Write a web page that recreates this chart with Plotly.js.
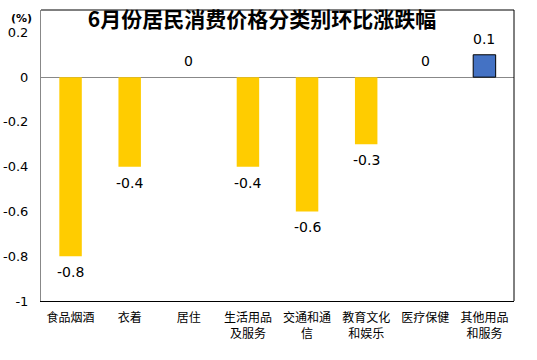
<!DOCTYPE html>
<html><head><meta charset="utf-8">
<script src="https://cdn.plot.ly/plotly-3.0.1.min.js"></script>
<style>html,body{margin:0;padding:0;background:#fff}</style>
</head><body>
<div id="chart" style="width:537px;height:360px"></div>
<script>
const categories = ["食品烟酒", "衣着", "居住", "生活用品<br>及服务", "交通和通<br>信", "教育文化<br>和娱乐", "医疗保健", "其他用品<br>和服务"];
const values = [-0.8, -0.4, 0, -0.4, -0.6, -0.3, 0, 0.1];
const yTickVals = [0.2, 0, -0.2, -0.4, -0.6, -0.8, -1];
const yTickText = ["0.2", "0", "-0.2", "-0.4", "-0.6", "-0.8", "-1"];
const title = "6月份居民消费价格分类别环比涨跌幅";
const unit = "(%)";

const colors = values.map(v => v > 0 ? "#4472C4" : "#FFCC00");
const lineColors = values.map(v => v > 0 ? "#000000" : "rgba(0,0,0,0)");
const lineWidths = values.map(v => v > 0 ? 1 : 0);

const trace = {
  type: "bar",
  x: categories,
  y: values,
  width: 0.38,
  marker: {color: colors, line: {color: lineColors, width: lineWidths}},
  hoverinfo: "none"
};

const valueAnns = categories.map((c, i) => ({
  x: c, y: values[i], xref: "x", yref: "y",
  text: String(values[i]), showarrow: false,
  yanchor: "middle", xanchor: "center",
  yshift: values[i] < 0 ? -16 : 16,
  font: {family: "DejaVu Sans", size: 14, color: "#000"}
}));

const plotW = 537 - 41 - 23, plotH = 360 - 10 - 59;

const layout = {
  width: 537, height: 360,
  margin: {l: 41, r: 23, t: 10, b: 59},
  paper_bgcolor: "#fff", plot_bgcolor: "#fff",
  showlegend: false,
  bargap: 0.6,
  title: {text: "<b>" + title + "</b>", x: (262 - 41) / plotW, xanchor: "center", xref: "paper", y: 1 - 20/360, yanchor: "middle",
    font: {family: "Noto Sans CJK SC", size: 21, color: "#000"}},
  xaxis: {
    type: "category",
    showline: true, linecolor: "#000", linewidth: 1,
    showgrid: false, ticks: "", ticklabelstandoff: 6,
    tickfont: {family: "Noto Sans CJK SC", size: 12, color: "#000"},
    fixedrange: true
  },
  yaxis: {
    range: [-1, 0.3],
    tickvals: yTickVals, ticktext: yTickText,
    showline: true, linecolor: "#888", linewidth: 1,
    showgrid: false,
    zeroline: true, zerolinecolor: "#888", zerolinewidth: 1,
    ticks: "", ticklabelstandoff: 9,
    tickfont: {family: "DejaVu Sans", size: 13, color: "#000"},
    fixedrange: true
  },
  shapes: [
    {type: "line", xref: "paper", yref: "paper", x0: 0, x1: 1, y0: 1, y1: 1, line: {color: "#000", width: 1}},
    {type: "line", xref: "paper", yref: "paper", x0: 1, x1: 1, y0: 0, y1: 1, line: {color: "#000", width: 1}}
  ],
  annotations: valueAnns.concat([{
    x: (21 - 41) / plotW, y: (360 - 59 - 18) / plotH, xref: "paper", yref: "paper", showarrow: false,
    text: "<b>" + unit + "</b>", xanchor: "center", yanchor: "middle",
    font: {family: "DejaVu Sans", size: 11, color: "#000"}
  }])
};

Plotly.newPlot("chart", [trace], layout, {displayModeBar: false, staticPlot: true});
</script>
</body></html>
